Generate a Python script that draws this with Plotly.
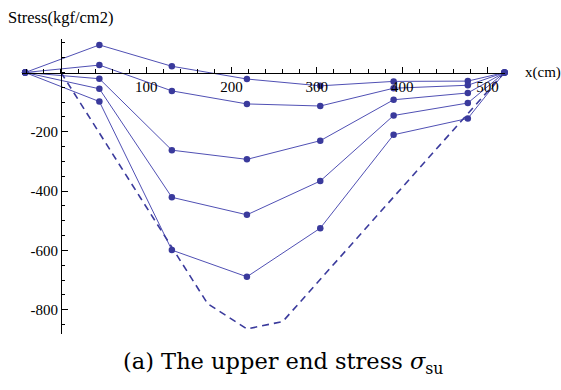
import plotly.graph_objects as go

# Positions along the member (cm)
x_pos = [-42, 45, 130, 218, 304, 390, 477, 520]

# Upper end stress (kgf/cm2) for successive load steps
stress_1 = [0, 93, 21, -22, -45, -30, -29, 0]
stress_2 = [0, 25, -62, -106, -113, -53, -43, 0]
stress_3 = [0, -21, -262, -293, -230, -92, -69, 0]
stress_4 = [0, -55, -421, -480, -366, -145, -103, 0]
stress_5 = [0, -98, -599, -689, -525, -210, -155, 0]

# Limit envelope (dashed)
env_x = [0, 172, 218, 260, 520]
env_y = [0, -780, -865, -840, 0]

x_ticks = [100, 200, 300, 400, 500]
y_ticks = [-800, -600, -400, -200]
y_ticktext = ["-800", "-600", "-400", "-200"]

x_range = [-45.7, 520.6]
y_range = [-882, 113]

line_col = "#5050b4"
mark_col = "#3a3a9c"
font_family = "Liberation Serif"

fig = go.Figure()
for ys in [stress_1, stress_2, stress_3, stress_4, stress_5]:
    fig.add_trace(go.Scatter(
        x=x_pos, y=ys, mode="lines+markers",
        line=dict(color=line_col, width=1),
        marker=dict(color=mark_col, size=6.5),
        cliponaxis=False, showlegend=False, hoverinfo="skip",
    ))

fig.add_trace(go.Scatter(
    x=env_x, y=env_y, mode="lines",
    line=dict(color=mark_col, width=1.6, dash="7px,5px"),
    cliponaxis=False, showlegend=False, hoverinfo="skip",
))

# Axes cross at the origin
x_axis_pos = (0 - y_range[0]) / (y_range[1] - y_range[0])
y_axis_pos = (0 - x_range[0]) / (x_range[1] - x_range[0])

fig.update_layout(
    width=561, height=390,
    margin=dict(l=22, r=56, t=39, b=56),
    paper_bgcolor="white", plot_bgcolor="white",
    font=dict(family=font_family, size=15, color="black"),
    xaxis=dict(
        range=x_range, anchor="free", position=x_axis_pos,
        showgrid=False, zeroline=False,
        showline=True, linecolor="black", linewidth=1,
        tickmode="array", tickvals=x_ticks,
        ticks="inside", ticklen=6, tickcolor="black", tickwidth=1,
        minor=dict(tickmode="linear", tick0=0, dtick=20, ticks="inside",
                   ticklen=3.5, tickcolor="black", tickwidth=1),
        tickfont=dict(family=font_family, size=15),
    ),
    yaxis=dict(
        range=y_range, anchor="free", position=y_axis_pos,
        showgrid=False, zeroline=False,
        showline=True, linecolor="black", linewidth=1,
        tickmode="array", tickvals=y_ticks, ticktext=y_ticktext,
        ticks="inside", ticklen=6, tickcolor="black", tickwidth=1,
        minor=dict(tickmode="linear", tick0=0, dtick=50, ticks="inside",
                   ticklen=3.5, tickcolor="black", tickwidth=1),
        tickfont=dict(family=font_family, size=15),
    ),
    annotations=[
        dict(text="Stress(kgf/cm2)", xref="paper", yref="paper",
             x=0, y=1, xshift=-16, yshift=22, xanchor="left", yanchor="middle",
             showarrow=False, font=dict(family=font_family, size=16.5)),
        dict(text="x(cm)", xref="paper", yref="y", x=1, y=0,
             xshift=18, xanchor="left", yanchor="middle",
             showarrow=False, font=dict(family=font_family, size=15)),
        dict(text="(a) The upper end stress <i>σ</i><sub>su</sub>",
             xref="paper", yref="paper", x=0.5, y=0, xshift=19, yshift=-29,
             xanchor="center", yanchor="middle",
             showarrow=False, font=dict(family="DejaVu Serif", size=22.5)),
    ],
)

fig.write_html("out.html")
